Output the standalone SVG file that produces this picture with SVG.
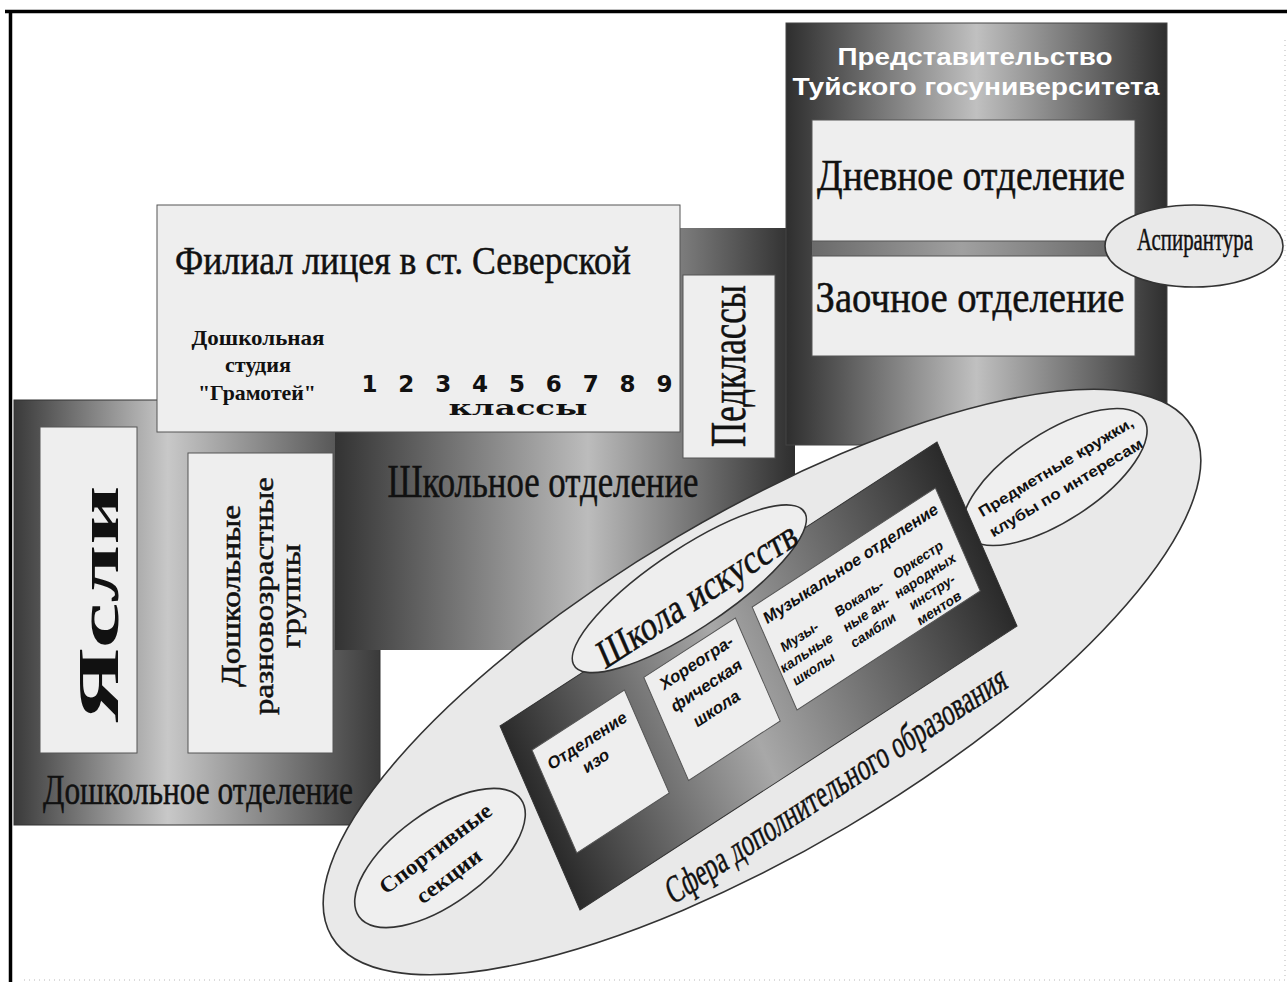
<svg xmlns="http://www.w3.org/2000/svg" width="1287" height="982" viewBox="0 0 1287 982">
<defs>
<style>
.serif{font-family:"Liberation Serif","DejaVu Serif",serif;fill:#111;stroke:#111;stroke-width:0.5}
.sb{font-family:"Liberation Serif","DejaVu Serif",serif;font-weight:bold;fill:#111}
.sans{font-family:"Liberation Sans",Arial,sans-serif;font-weight:bold;fill:#111}
.box{fill:#eeeeee;stroke:#555;stroke-width:1}
.oval{fill:#e9e9e9;stroke:#333;stroke-width:1.6}
.mid{text-anchor:middle}
</style>
<linearGradient id="gRep" x1="0" y1="0" x2="1" y2="0">
<stop offset="0" stop-color="#2e2e2e"/><stop offset="0.5" stop-color="#c0c0c0"/><stop offset="1" stop-color="#2e2e2e"/>
</linearGradient>
<linearGradient id="gSch" x1="0" y1="0" x2="1" y2="0">
<stop offset="0" stop-color="#333"/><stop offset="0.55" stop-color="#bcbcbc"/><stop offset="1" stop-color="#2e2e2e"/>
</linearGradient>
<linearGradient id="gPre" x1="0" y1="0" x2="1" y2="0">
<stop offset="0" stop-color="#3a3a3a"/><stop offset="0.42" stop-color="#c8c8c8"/><stop offset="1" stop-color="#3a3a3a"/>
</linearGradient>
<linearGradient id="gFrame" x1="0" y1="0" x2="1" y2="0">
<stop offset="0" stop-color="#2a2a2a"/><stop offset="0.45" stop-color="#a8a8a8"/><stop offset="1" stop-color="#2a2a2a"/>
</linearGradient>
<linearGradient id="gBar" x1="0" y1="0" x2="1" y2="0">
<stop offset="0" stop-color="#6a6a6a"/><stop offset="0.5" stop-color="#a0a0a0"/><stop offset="1" stop-color="#6a6a6a"/>
</linearGradient>
</defs>
<rect width="1287" height="982" fill="#fff"/>
<path d="M1285 40V980H20" fill="none" stroke="#d0d0d0" stroke-width="1.5" stroke-dasharray="1 4"/>
<path d="M5 11.5H1287M10.5 11.5V982" fill="none" stroke="#000" stroke-width="3.5"/>

<g id="preschool">
<rect x="14" y="400" width="366" height="425" fill="url(#gPre)" stroke="#333" stroke-width="1"/>
<rect class="box" x="40" y="427" width="97" height="326"/>
<rect class="box" x="188" y="453" width="145" height="300"/>
<text class="sb mid" font-size="56" textLength="237" lengthAdjust="spacingAndGlyphs" transform="translate(118 604) rotate(-90)">Ясли</text>
<text class="serif mid" font-size="27" textLength="182" lengthAdjust="spacingAndGlyphs" transform="translate(240 596) rotate(-90)">Дошкольные</text>
<text class="serif mid" font-size="27" textLength="238" lengthAdjust="spacingAndGlyphs" transform="translate(273 596) rotate(-90)">разновозрастные</text>
<text class="serif mid" font-size="27" textLength="104" lengthAdjust="spacingAndGlyphs" transform="translate(300 596) rotate(-90)">группы</text>
<text class="serif mid" x="198" y="804" font-size="42" textLength="310" lengthAdjust="spacingAndGlyphs">Дошкольное отделение</text>
</g>

<g id="school">
<rect x="335" y="228" width="460" height="422" fill="url(#gSch)"/>
<text class="serif mid" x="543" y="497" font-size="46" textLength="311" lengthAdjust="spacingAndGlyphs">Школьное отделение</text>
</g>

<g id="university">
<rect x="786" y="23" width="381" height="422" fill="url(#gRep)" stroke="#444" stroke-width="1"/>
<text class="sans mid" x="975" y="65" font-size="23" style="fill:#fff" textLength="275" lengthAdjust="spacingAndGlyphs">Представительство</text>
<text class="sans mid" x="976" y="95" font-size="23" style="fill:#fff" textLength="367" lengthAdjust="spacingAndGlyphs">Туйского госуниверситета</text>
<rect x="812" y="241" width="300" height="15" fill="url(#gBar)"/>
<rect class="box" x="812" y="120" width="323" height="121"/>
<rect class="box" x="812" y="256" width="323" height="100"/>
<text class="serif mid" x="971" y="190" font-size="44" textLength="308" lengthAdjust="spacingAndGlyphs">Дневное отделение</text>
<text class="serif mid" x="970" y="312" font-size="44" textLength="309" lengthAdjust="spacingAndGlyphs">Заочное отделение</text>
</g>

<g id="postgrad">
<ellipse class="oval" cx="1194" cy="246" rx="89" ry="41"/>
<text class="serif mid" x="1195" y="250" font-size="31" textLength="116" lengthAdjust="spacingAndGlyphs">Аспирантура</text>
</g>

<g id="branch">
<rect class="box" x="157" y="205" width="523" height="227" stroke-width="1.5"/>
<text class="serif mid" x="403" y="274" font-size="40" textLength="456" lengthAdjust="spacingAndGlyphs">Филиал лицея в ст. Северской</text>
<text class="sb mid" x="258" y="345" font-size="22" textLength="133" lengthAdjust="spacingAndGlyphs">Дошкольная</text>
<text class="sb mid" x="258" y="372" font-size="22" textLength="66" lengthAdjust="spacingAndGlyphs">студия</text>
<text class="sb mid" x="257" y="400" font-size="22" textLength="118" lengthAdjust="spacingAndGlyphs">"Грамотей"</text>
<text class="mid" x="517" y="392" font-size="23" font-family="DejaVu Sans, sans-serif" font-weight="bold" fill="#111" textLength="311" lengthAdjust="spacing">1 2 3 4 5 6 7 8 9</text>
<text class="mid" x="518" y="415" font-size="20" font-family="DejaVu Serif, serif" font-weight="bold" fill="#111" textLength="139" lengthAdjust="spacingAndGlyphs">классы</text>
</g>

<g id="pedclasses">
<rect class="box" x="683" y="275" width="92" height="183"/>
<text class="serif mid" font-size="50" textLength="162" lengthAdjust="spacingAndGlyphs" transform="translate(745 366) rotate(-90)">Педклассы</text>
</g>

<g id="extra-education">
<ellipse class="oval" cx="762" cy="682" rx="500" ry="168" transform="rotate(-30.6 762 682)"/>
</g>

<g id="sports">
<ellipse class="oval" cx="440" cy="858" rx="100" ry="46" transform="rotate(-36 440 858)" style="fill:#efefef"/>
<g transform="translate(440 858) rotate(-37)">
<text class="sb mid" x="2" y="-3" font-size="22" textLength="135" lengthAdjust="spacingAndGlyphs">Спортивные</text>
<text class="sb mid" x="-4" y="27" font-size="22" textLength="76" lengthAdjust="spacingAndGlyphs">секции</text>
</g>
</g>

<g id="clubs">
<ellipse class="oval" cx="1055" cy="477" rx="106" ry="44" transform="rotate(-33 1055 477)" style="fill:#efefef"/>
<g transform="translate(1055 477) rotate(-31)">
<text class="sans mid" x="6" y="-3" font-size="15" textLength="178" lengthAdjust="spacingAndGlyphs">Предметные кружки,</text>
<text class="sans mid" x="4" y="20" font-size="15" textLength="176" lengthAdjust="spacingAndGlyphs">клубы по интересам</text>
</g>
</g>

<g id="art-school" transform="matrix(0.8404 -0.546 0.4 0.92 500 726)">
<rect width="520" height="200" fill="url(#gFrame)" stroke="#333" stroke-width="1"/>
<g id="dept-izo">
<rect class="box" x="20" y="38" width="110" height="112"/>
<text class="sans mid" x="75" y="66" font-size="17">Отделение</text>
<text class="sans mid" x="75" y="88" font-size="17">изо</text>
</g>
<g id="dept-choreo">
<rect class="box" x="153" y="38" width="109" height="112"/>
<text class="sans mid" x="208" y="60" font-size="17">Хореогра-</text>
<text class="sans mid" x="208" y="85" font-size="17">фическая</text>
<text class="sans mid" x="208" y="110" font-size="17">школа</text>
</g>
<g id="dept-music">
<rect class="box" x="282" y="38" width="218" height="112"/>
<text class="sans mid" x="391" y="61" font-size="16.5" textLength="205" lengthAdjust="spacingAndGlyphs">Музыкальное отделение</text>
<text class="sans mid" font-size="14"><tspan x="314" y="94">Музы-</tspan><tspan x="314" y="111.5">кальные</tspan><tspan x="314" y="129">школы</tspan></text>
<text class="sans mid" font-size="14"><tspan x="385" y="94">Вокаль-</tspan><tspan x="385" y="111.5">ные ан-</tspan><tspan x="385" y="129">самбли</tspan></text>
<text class="sans mid" font-size="14"><tspan x="455" y="94">Оркестр</tspan><tspan x="455" y="111.5">народных</tspan><tspan x="455" y="129">инстру-</tspan><tspan x="455" y="146.5">ментов</tspan></text>
</g>
<g id="art-school-title">
<ellipse class="oval" cx="231" cy="-12" rx="138" ry="40" style="fill:#eeeeee"/>
<text class="serif mid" x="236" y="10" font-size="40" textLength="232" lengthAdjust="spacingAndGlyphs">Школа искусств</text>
</g>
<text class="serif mid" x="288" y="247" font-size="38" textLength="400" lengthAdjust="spacingAndGlyphs">Сфера дополнительного образования</text>
</g>
</svg>
